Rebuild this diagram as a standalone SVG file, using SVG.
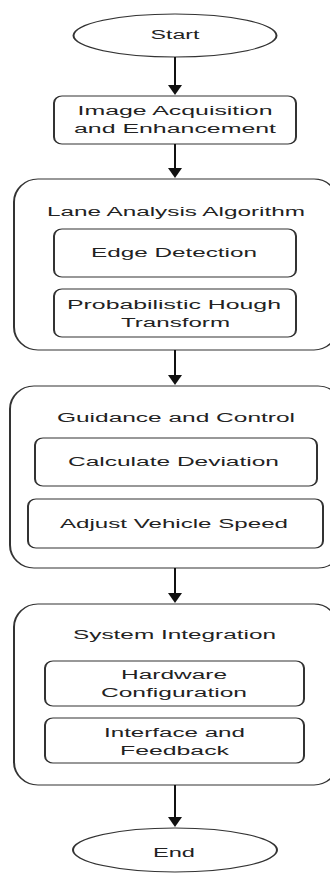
<svg xmlns="http://www.w3.org/2000/svg" width="330" height="873" viewBox="0 0 330 873">
<style>
.n{fill:#fff;stroke:#333;stroke-width:1}
.t{font-family:"Liberation Sans",Arial,sans-serif;font-size:12.5px;fill:#222;text-anchor:middle}
.c line{stroke:#111;stroke-width:1}
.c polygon{fill:#111}
</style>
<rect width="330" height="873" fill="#fff"/>
<g transform="scale(2,1)">
<g id="start"><ellipse class="n" cx="87.5" cy="35.5" rx="50.75" ry="21.5"/><text class="t" x="87.5" y="39.5" textLength="24.5" lengthAdjust="spacingAndGlyphs">Start</text></g>
<g id="acquisition"><rect class="n" x="27" y="96" width="121" height="48" rx="4" ry="7"/><text class="t" x="87.5" y="115" textLength="97.5" lengthAdjust="spacingAndGlyphs">Image Acquisition</text><text class="t" x="87.5" y="133" textLength="101" lengthAdjust="spacingAndGlyphs">and Enhancement</text></g>
<g id="lane"><rect class="n" x="7" y="179" width="162" height="171" rx="12" ry="23"/><text class="t" x="88" y="216" textLength="129" lengthAdjust="spacingAndGlyphs">Lane Analysis Algorithm</text></g>
<g id="edge"><rect class="n" x="27" y="229" width="121" height="48" rx="4" ry="7"/><text class="t" x="87" y="257" textLength="83" lengthAdjust="spacingAndGlyphs">Edge Detection</text></g>
<g id="hough"><rect class="n" x="27" y="289" width="121" height="48" rx="4" ry="7"/><text class="t" x="87" y="309" textLength="107" lengthAdjust="spacingAndGlyphs">Probabilistic Hough</text><text class="t" x="87.75" y="327" textLength="54.5" lengthAdjust="spacingAndGlyphs">Transform</text></g>
<g id="guidance"><rect class="n" x="5" y="386" width="166" height="182" rx="12" ry="23"/><text class="t" x="88" y="422" textLength="119" lengthAdjust="spacingAndGlyphs">Guidance and Control</text></g>
<g id="deviation"><rect class="n" x="17.5" y="438" width="141" height="48" rx="4" ry="7"/><text class="t" x="86.75" y="466" textLength="105.5" lengthAdjust="spacingAndGlyphs">Calculate Deviation</text></g>
<g id="speed"><rect class="n" x="14" y="499" width="147.5" height="49" rx="4" ry="7"/><text class="t" x="87" y="528" textLength="114" lengthAdjust="spacingAndGlyphs">Adjust Vehicle Speed</text></g>
<g id="system"><rect class="n" x="7" y="604" width="162" height="181" rx="12" ry="23"/><text class="t" x="87.25" y="639" textLength="101.5" lengthAdjust="spacingAndGlyphs">System Integration</text></g>
<g id="hardware"><rect class="n" x="22.5" y="661" width="129.5" height="45" rx="4" ry="7"/><text class="t" x="87" y="679" textLength="53" lengthAdjust="spacingAndGlyphs">Hardware</text><text class="t" x="87" y="697" textLength="73" lengthAdjust="spacingAndGlyphs">Configuration</text></g>
<g id="interface"><rect class="n" x="22.5" y="718" width="129.5" height="45" rx="4" ry="7"/><text class="t" x="87.25" y="737" textLength="70.5" lengthAdjust="spacingAndGlyphs">Interface and</text><text class="t" x="87.25" y="755" textLength="54.5" lengthAdjust="spacingAndGlyphs">Feedback</text></g>
<g id="end"><ellipse class="n" cx="87.5" cy="850" rx="51" ry="22"/><text class="t" x="87" y="857" textLength="21" lengthAdjust="spacingAndGlyphs">End</text></g>
<g id="connectors" class="c">
<line x1="87.5" y1="57" x2="87.5" y2="88"/><polygon points="84,85 91,85 87.5,95"/>
<line x1="87.5" y1="144" x2="87.5" y2="171"/><polygon points="84,168 91,168 87.5,178"/>
<line x1="87.5" y1="350" x2="87.5" y2="378"/><polygon points="84,375 91,375 87.5,385"/>
<line x1="87.5" y1="568" x2="87.5" y2="596"/><polygon points="84,593 91,593 87.5,603"/>
<line x1="87.5" y1="785" x2="87.5" y2="820"/><polygon points="84,817 91,817 87.5,827"/>
</g>
</g>
</svg>
